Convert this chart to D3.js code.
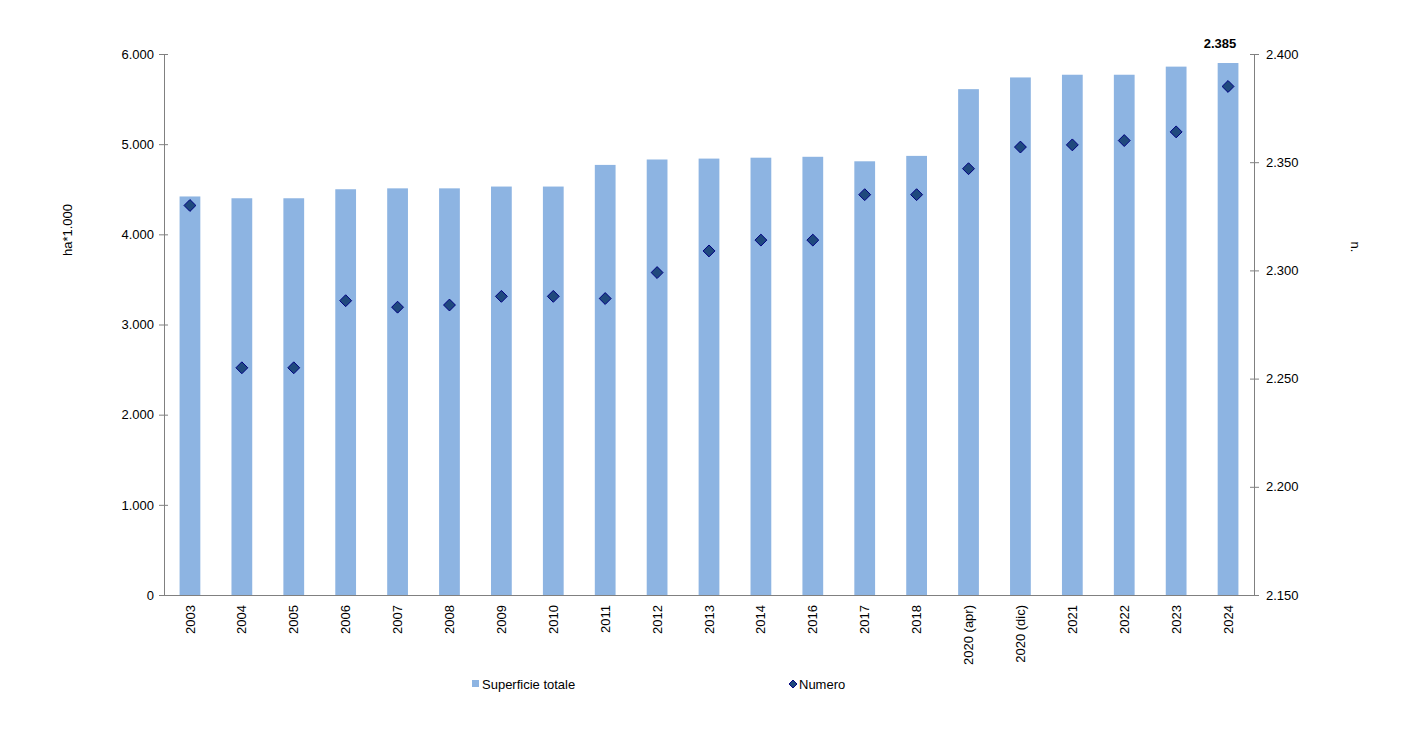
<!DOCTYPE html>
<html>
<head>
  <script src="https://d3js.org/d3.v7.min.js"></script>
  <style>
    body { margin: 0; background: #fff; }
    text { font-family: "Liberation Sans", Arial, sans-serif; fill: #000; }
  </style>
</head>
<body>
  <svg id="svg" width="1407" height="732"></svg>
  <script>
    // data
    const categories = ["2003", "2004", "2005", "2006", "2007", "2008", "2009", "2010", "2011", "2012",
      "2013", "2014", "2016", "2017", "2018", "2020 (apr)", "2020 (dic)", "2021", "2022", "2023", "2024"];
    const superficie = [4420, 4400, 4400, 4500, 4510, 4510, 4530, 4530, 4770, 4830,
      4840, 4850, 4860, 4810, 4870, 5610, 5740, 5770, 5770, 5860, 5900];
    const numero = [2330, 2255, 2255, 2286, 2283, 2284, 2288, 2288, 2287, 2299,
      2309, 2314, 2314, 2335, 2335, 2347, 2357, 2358, 2360, 2364, 2385];
    const leftTicks = [0, 1000, 2000, 3000, 4000, 5000, 6000];
    const rightTicks = [2150, 2200, 2250, 2300, 2350, 2400];

    const svg = d3.select("#svg");
    const margins = { top: 54, left: 164, right: 1254, bottom: 595 };
    const fmt = d3.formatLocale({ decimal: ",", thousands: ".", grouping: [3] }).format(",d");

    const x = d3.scaleBand().domain(categories).range([margins.left, margins.right]).paddingInner(0.6).paddingOuter(0.3);
    const yL = d3.scaleLinear().domain([0, 6000]).range([margins.bottom, margins.top]);
    const yR = d3.scaleLinear().domain([2150, 2400]).range([margins.bottom, margins.top]);

    // bars
    svg.append("g").selectAll("rect")
      .data(categories)
      .join("rect")
      .attr("x", d => x(d))
      .attr("width", x.bandwidth())
      .attr("y", (d, i) => yL(superficie[i]))
      .attr("height", (d, i) => yL(0) - yL(superficie[i]))
      .attr("fill", "#8DB4E2");

    // axes
    const leftAxis = d3.axisLeft(yL).tickValues(leftTicks).tickFormat(fmt).tickSizeInner(5).tickSizeOuter(0);
    const gl = svg.append("g").attr("transform", `translate(${margins.left},0)`).call(leftAxis);
    gl.selectAll(".tick line").attr("x2", -5).attr("x1", 4);
    const rightAxis = d3.axisRight(yR).tickValues(rightTicks).tickFormat(fmt).tickSizeInner(5).tickSizeOuter(0);
    const gr = svg.append("g").attr("transform", `translate(${margins.right},0)`).call(rightAxis);
    gr.selectAll(".tick line").attr("x1", -4);
    [gl, gr].forEach(g => {
      g.select(".domain").attr("stroke", "#808080");
      g.selectAll(".tick line").attr("stroke", "#808080");
      g.selectAll(".tick text").attr("font-size", 13).attr("font-family", "Liberation Sans, Arial, sans-serif").attr("fill", "#000");
    });
    gl.selectAll(".tick text").attr("x", -10);
    gr.selectAll(".tick text").attr("x", 12);

    const bottomAxis = d3.axisBottom(x).tickSize(0).tickSizeOuter(0);
    const gb = svg.append("g").attr("transform", `translate(0,${margins.bottom})`).call(bottomAxis);
    gb.select(".domain").attr("stroke", "#808080");
    gb.selectAll(".tick text")
      .attr("font-size", 13).attr("font-family", "Liberation Sans, Arial, sans-serif").attr("fill", "#000")
      .attr("transform", "rotate(-90)")
      .attr("text-anchor", "end")
      .attr("x", -10).attr("y", 0).attr("dy", "0.35em");

    // diamonds
    const diamond = d3.symbol().type(d3.symbolDiamond2).size(90);
    svg.append("g").selectAll("path")
      .data(categories)
      .join("path")
      .attr("d", diamond)
      .attr("transform", (d, i) => `translate(${x(d) + x.bandwidth() / 2},${yR(numero[i])})`)
      .attr("fill", "#1F497D")
      .attr("stroke", "#000080")
      .attr("stroke-width", 1);

    // last value label
    const last = categories.length - 1;
    svg.append("text")
      .attr("x", x(categories[last]) + x.bandwidth() / 2 - 8)
      .attr("y", 48)
      .attr("text-anchor", "middle")
      .attr("font-size", 13).attr("font-weight", "bold")
      .text(fmt(numero[last]));

    // axis titles
    svg.append("text")
      .attr("transform", "translate(72,230) rotate(-90)")
      .attr("text-anchor", "middle").attr("font-size", 13)
      .text("ha*1.000");
    svg.append("text")
      .attr("transform", "translate(1351,247) rotate(90)")
      .attr("text-anchor", "middle").attr("font-size", 13)
      .text("n.");

    // legend
    const lg = svg.append("g");
    lg.append("rect").attr("x", 472).attr("y", 680).attr("width", 7).attr("height", 7).attr("fill", "#8DB4E2");
    lg.append("text").attr("x", 482).attr("y", 689).attr("font-size", 13).text("Superficie totale");
    lg.append("path").attr("d", d3.symbol().type(d3.symbolDiamond2).size(40))
      .attr("transform", "translate(793,684)").attr("fill", "#1F497D").attr("stroke", "#000080");
    lg.append("text").attr("x", 799).attr("y", 689).attr("font-size", 13).text("Numero");
  </script>
</body>
</html>
